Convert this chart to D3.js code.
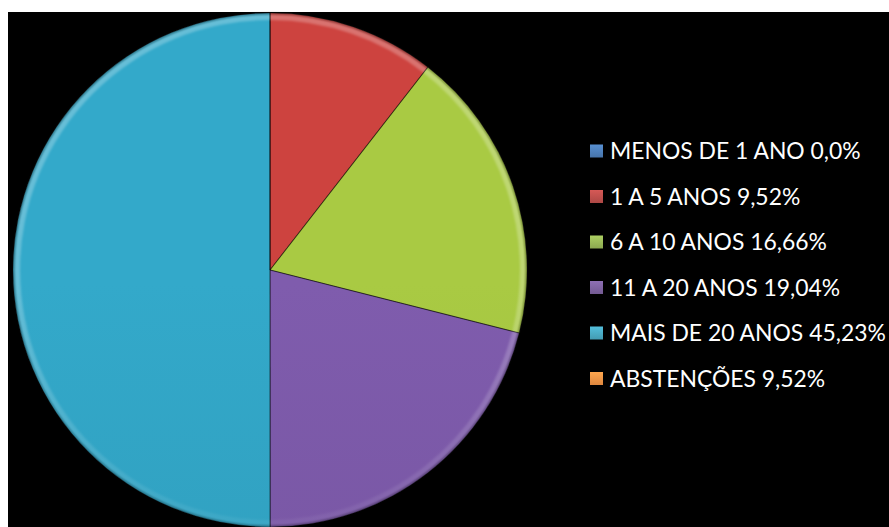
<!DOCTYPE html>
<html>
<head>
<meta charset="utf-8">
<script src="https://cdn.jsdelivr.net/npm/d3@7"></script>
<style>
  html, body { margin: 0; padding: 0; background: #ffffff; }
  svg { display: block; }
</style>
</head>
<body>
<svg id="chart" width="889" height="527"></svg>
<script>
// ---- data ----
const categories = ["MENOS DE 1 ANO", "1 A 5 ANOS", "6 A 10 ANOS", "11 A 20 ANOS", "MAIS DE 20 ANOS", "ABSTENÇÕES"];
const percentLabels = ["0,0%", "9,52%", "16,66%", "19,04%", "45,23%", "9,52%"];
// values drawn as slices (abstenções not drawn in the pie of the original)
const sliceValues = [0, 9.52, 16.66, 19.04, 45.23, 0];
const legendColors = ["#4F81BD", "#C0504D", "#9BBB59", "#8064A2", "#4BACC6", "#F79646"];
const sliceColors = ["#3F74B3", "#C4403C", "#A2C240", "#7A58A6", "#31A2C2", "#E8852F"];

// ---- layout ----
const W = 889, H = 527;
const svg = d3.select("#chart");
const defs = svg.append("defs");

svg.append("rect").attr("x", 8).attr("y", 12).attr("width", W - 8).attr("height", H - 12).attr("fill", "#000");

const cx = 270, cy = 270, R = 257;

// gradients per slice colour (vertical light -> dark across pie)
sliceColors.forEach((c, i) => {
  const g = defs.append("linearGradient").attr("id", "sg" + i)
    .attr("gradientUnits", "userSpaceOnUse")
    .attr("x1", 0).attr("y1", cy - R).attr("x2", 0).attr("y2", cy + R);
  g.append("stop").attr("offset", 0).attr("stop-color", d3.color(c).brighter(0.12));
  g.append("stop").attr("offset", 0.5).attr("stop-color", c);
  g.append("stop").attr("offset", 1).attr("stop-color", d3.color(c).darker(0.4));
});
// rim bevel gradient
const rg = defs.append("linearGradient").attr("id", "rim")
  .attr("gradientUnits", "userSpaceOnUse")
  .attr("x1", 0).attr("y1", cy - R).attr("x2", 0).attr("y2", cy + R);
rg.append("stop").attr("offset", 0).attr("stop-color", "#fff").attr("stop-opacity", 0.25);
rg.append("stop").attr("offset", 0.5).attr("stop-color", "#fff").attr("stop-opacity", 0.04);
rg.append("stop").attr("offset", 1).attr("stop-color", "#000").attr("stop-opacity", 0.25);

const blur = defs.append("filter").attr("id", "soft").attr("x", "-10%").attr("y", "-10%").attr("width", "120%").attr("height", "120%");
blur.append("feGaussianBlur").attr("stdDeviation", 1.2);

const pie = d3.pie().sort(null).value(d => d);
const arcs = pie(sliceValues);
const arc = d3.arc().innerRadius(0).outerRadius(R);
const rimArc = d3.arc().innerRadius(R - 7).outerRadius(R - 1);

const g = svg.append("g").attr("transform", `translate(${cx},${cy})`);

g.selectAll("path.slice").data(arcs).join("path")
  .attr("class", "slice")
  .attr("d", arc)
  .attr("fill", (d, i) => `url(#sg${i})`)
  .attr("stroke", "rgba(0,0,0,0.3)")
  .attr("stroke-width", 1);

// bevel rim
g.selectAll("path.rim").data(arcs.filter(d => d.value > 0)).join("path")
  .attr("class", "rim")
  .attr("d", rimArc)
  .attr("fill", "url(#rim)")
  .attr("filter", "url(#soft)");

// outer dark edge
g.append("circle").attr("r", R - 0.5).attr("fill", "none")
  .attr("stroke", "rgba(0,0,0,0.45)").attr("stroke-width", 1.5).attr("filter", "url(#soft)");

// slice separators
g.selectAll("line.sep").data(arcs.filter(d => d.value > 0)).join("line")
  .attr("class", "sep")
  .attr("x1", 0).attr("y1", 0)
  .attr("x2", d => R * Math.sin(d.startAngle))
  .attr("y2", d => -R * Math.cos(d.startAngle))
  .attr("stroke", "rgba(0,0,0,0.3)").attr("stroke-width", 1.2);

// ---- legend ----
const legendX = 590, legendY0 = 151, legendStep = 45.5, box = 13;
const yL = d3.scalePoint().domain(d3.range(categories.length)).range([legendY0, legendY0 + legendStep * (categories.length - 1)]);

const leg = svg.append("g");
categories.forEach((c, i) => {
  const mg = defs.append("linearGradient").attr("id", "lg" + i).attr("x1", 0).attr("y1", 0).attr("x2", 0).attr("y2", 1);
  mg.append("stop").attr("offset", 0).attr("stop-color", d3.color(legendColors[i]).brighter(0.3));
  mg.append("stop").attr("offset", 1).attr("stop-color", d3.color(legendColors[i]).darker(0.3));
});
const items = leg.selectAll("g.item").data(categories).join("g")
  .attr("class", "item")
  .attr("transform", (d, i) => `translate(${legendX},${yL(i)})`);
items.append("rect")
  .attr("x", 0).attr("y", -box / 2).attr("width", box).attr("height", box)
  .attr("fill", (d, i) => `url(#lg${i})`);
const texts = items.append("text")
  .attr("x", 20).attr("y", 0).attr("dy", "0.36em")
  .attr("fill", "#ffffff")
  .style("font-family", "Lato, 'Open Sans', sans-serif")
  .style("font-size", "23px")
  .text((d, i) => `${d} ${percentLabels[i]}`);
// fit widths to the reference's narrow face
const target = 276;
let maxW = 0;
texts.each(function () { maxW = Math.max(maxW, this.getComputedTextLength()); });
const sx = target / maxW;
texts.attr("transform", `scale(${sx},1)`).attr("x", 20 / sx);
</script>
</body>
</html>
